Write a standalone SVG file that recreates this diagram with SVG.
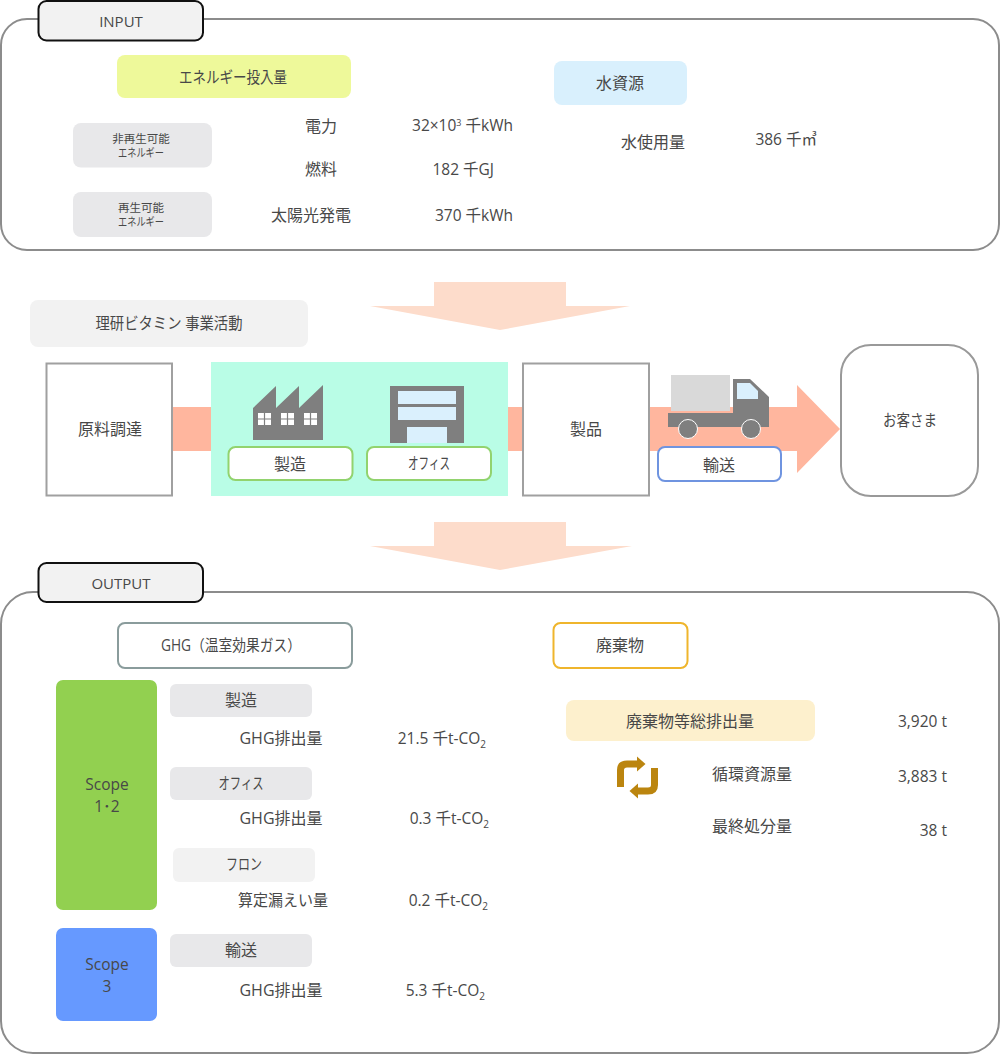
<svg xmlns="http://www.w3.org/2000/svg" width="1000" height="1055" viewBox="0 0 1000 1055">
<style>
text{font-family:"Open Sans","Noto Sans CJK JP",sans-serif;font-size:15.5px;fill:#484848;text-anchor:middle}
.c{font-size:16px}
.k{font-size:15px}
.s{font-size:11.500px}
.e{text-anchor:end}
.panel{fill:#fff;stroke:#8c8c8c;stroke-width:2}
.tab{fill:#f2f2f2;stroke:#111;stroke-width:2}
.box{fill:#fff;stroke:#a0a0a0;stroke-width:2}
.gray{fill:#e8e8ea}
.lt{fill:#f2f2f2}
.bigarrow{fill:#fddccb}
.band{fill:#ffb69e}
.dark{fill:#7f7f7f}
.pale{fill:#daf0fd}
.lab{fill:#fff;stroke:#92d36e;stroke-width:2}
.win{fill:#fff}
.rec{fill:none;stroke:#bb850f;stroke-width:7}
.recf{fill:#bb850f}
</style>
<defs>
<g id="w"><rect width="13" height="12" class="win"/><path d="M6.500 0V12M0 6H13" stroke="#7f7f7f" stroke-width="1.200"/></g>
</defs>

<g id="connectors">
<path id="arrow-down-1" class="bigarrow" d="M434 282H566V306H630L500 330L370 306H434Z"/>
<path id="arrow-down-2" class="bigarrow" d="M434 522H566V546H632L500 570L370 546H434Z"/>
<rect id="band-1" class="band" x="172" y="407" width="40" height="44"/>
<rect id="band-2" class="band" x="507" y="407" width="16" height="44"/>
<path id="band-3" class="band" d="M649 407H797V385L840 429L797 473V451H649Z"/>
</g>

<g id="input-panel">
<rect class="panel" x="1" y="19" width="998" height="231" rx="26"/>
<rect class="tab" x="38.500" y="1" width="164.500" height="39.500" rx="8"/>
<text class="k" x="121" y="27">INPUT</text>
</g>
<g id="energy"><rect x="117" y="55" width="234" height="43" rx="8" fill="#eef99a"/><text class="c" x="233" y="83" textLength="108" lengthAdjust="spacingAndGlyphs">エネルギー投入量</text></g>
<g id="non-renewable"><rect class="gray" x="73" y="123" width="139" height="44.500" rx="8"/><text class="s" x="141" y="143">非再生可能<tspan x="141" dy="14" textLength="46" lengthAdjust="spacingAndGlyphs">エネルギー</tspan></text></g>
<g id="renewable"><rect class="gray" x="73" y="192" width="139" height="45" rx="8"/><text class="s" x="141" y="212">再生可能<tspan x="141" dy="14" textLength="46" lengthAdjust="spacingAndGlyphs">エネルギー</tspan></text></g>
<g id="water"><rect x="554" y="61" width="133" height="44" rx="8" fill="#d9f0fd"/><text class="c" x="620" y="89">水資源</text></g>
<g id="input-values">
<text class="c" x="321" y="132">電力</text>
<text class="c" x="321" y="175">燃料</text>
<text class="c" x="311" y="221">太陽光発電</text>
<text class="e" x="513" y="131">32×10<tspan font-size="9" dy="-5">3</tspan><tspan dy="5"> 千kWh</tspan></text>
<text class="e" x="494" y="175">182 千GJ</text>
<text class="e" x="513" y="221">370 千kWh</text>
<text class="c" x="653" y="148">水使用量</text>
<text class="e" x="817" y="145">386 千㎥</text>
</g>

<g id="business"><rect class="lt" x="30" y="300" width="278" height="47" rx="8"/><text x="169" y="329" textLength="147" lengthAdjust="spacingAndGlyphs">理研ビタミン 事業活動</text></g>
<g id="procurement"><rect class="box" x="46.500" y="363.500" width="125.500" height="132"/><text class="c" x="110" y="435">原料調達</text></g>

<g id="operations"><rect x="211" y="362" width="297" height="134" fill="#b9fde6"/>
<path class="dark" d="M253 408L276 386V408L299 386V408L323 385V440H253Z"/>
<use href="#w" x="258" y="413"/><use href="#w" x="281" y="413"/><use href="#w" x="304" y="413"/>
<rect class="dark" x="390" y="386" width="74" height="57"/>
<rect class="pale" x="398" y="391" width="58" height="13"/>
<rect class="pale" x="398" y="407" width="58" height="13"/>
<rect class="pale" x="407" y="427" width="40" height="16"/>
</g>
<g id="manufacturing"><rect class="lab" x="228.500" y="447" width="124" height="33" rx="7"/><text class="c" x="290" y="470">製造</text></g>
<g id="office"><rect class="lab" x="367" y="447" width="124" height="33" rx="7"/><text x="429" y="469" textLength="42" lengthAdjust="spacingAndGlyphs">オフィス</text></g>

<g id="product"><rect class="box" x="523" y="363.500" width="126" height="132"/><text class="c" x="586" y="435">製品</text></g>
<g id="truck">
<rect x="671" y="375" width="59" height="36" fill="#d9d9d9"/>
<path class="dark" d="M733 379H750L769 397V427H668V413H733Z"/>
<path class="pale" d="M737 383H750L758 391V399H737Z"/>
<circle class="dark" cx="688" cy="429" r="9.500" stroke="#fff"/>
<circle class="dark" cx="751" cy="429" r="9.500" stroke="#fff"/>
</g>
<g id="transport"><rect x="658" y="447" width="123" height="34" rx="7" fill="#fff" stroke="#6f94e0" stroke-width="2"/><text class="c" x="719" y="471">輸送</text></g>
<g id="customer"><rect x="841" y="345" width="137" height="151" rx="30" fill="#fff" stroke="#999" stroke-width="2"/><text x="910" y="426" textLength="54" lengthAdjust="spacingAndGlyphs">お客さま</text></g>

<g id="output-panel">
<rect class="panel" x="1" y="592" width="998" height="461" rx="32"/>
<rect class="tab" x="38.500" y="563" width="164.500" height="39" rx="8"/>
<text class="k" x="121" y="589">OUTPUT</text>
</g>
<g id="ghg"><rect x="118" y="623" width="234" height="45" rx="7" fill="#fff" stroke="#8a9c9c" stroke-width="2"/><text x="231" y="651" textLength="140" lengthAdjust="spacingAndGlyphs">GHG（温室効果ガス）</text></g>
<g id="waste"><rect x="553.500" y="623" width="134" height="45" rx="7" fill="#fff" stroke="#efb52c" stroke-width="2"/><text class="c" x="620" y="651">廃棄物</text></g>
<g id="scope12"><rect x="56" y="680" width="101" height="230" rx="7" fill="#92d050"/><text x="107" y="790">Scope</text><text x="107" y="811.500">1･2</text></g>
<g id="scope3"><rect x="56" y="928" width="101" height="93" rx="7" fill="#6699ff"/><text x="107" y="970">Scope</text><text x="107" y="991.500">3</text></g>
<g id="s-manufacturing"><rect class="gray" x="170" y="684" width="142" height="33" rx="6"/><text class="c" x="241" y="706">製造</text></g>
<g id="s-office"><rect class="gray" x="170" y="767" width="142" height="33" rx="6"/><text x="241" y="789" textLength="45" lengthAdjust="spacingAndGlyphs">オフィス</text></g>
<g id="s-freon"><rect class="lt" x="173" y="848" width="142" height="34" rx="6"/><text x="244" y="870" textLength="36" lengthAdjust="spacingAndGlyphs">フロン</text></g>
<g id="s-transport"><rect class="gray" x="170" y="934" width="142" height="33" rx="6"/><text class="c" x="241" y="956">輸送</text></g>
<g id="ghg-values">
<text class="c" x="281" y="744">GHG排出量</text>
<text class="e" x="486" y="744">21.5 千t-CO<tspan font-size="10" dy="4">2</tspan></text>
<text class="c" x="281" y="824">GHG排出量</text>
<text class="e" x="489" y="824">0.3 千t-CO<tspan font-size="10" dy="4">2</tspan></text>
<text x="283" y="906" textLength="90" lengthAdjust="spacingAndGlyphs">算定漏えい量</text>
<text class="e" x="488" y="906">0.2 千t-CO<tspan font-size="10" dy="4">2</tspan></text>
<text class="c" x="281" y="996">GHG排出量</text>
<text class="e" x="485" y="996">5.3 千t-CO<tspan font-size="10" dy="4">2</tspan></text>
</g>
<g id="waste-total"><rect x="566" y="700" width="249" height="41" rx="8" fill="#fdf0cd"/><text class="c" x="690" y="727">廃棄物等総排出量</text></g>
<g id="recycle-icon">
<g id="rec-a"><path class="rec" d="M620.500 787V770Q620.500 764 627 764H639"/><path class="recf" d="M637 756.500L645.500 764L637 771.500Z"/></g>
<g transform="rotate(180 637.500 777.500)"><path class="rec" d="M620.500 787V770Q620.500 764 627 764H639"/><path class="recf" d="M637 756.500L645.500 764L637 771.500Z"/></g>
</g>
<g id="waste-values">
<text class="c" x="752" y="780">循環資源量</text>
<text class="c" x="752" y="832">最終処分量</text>
<text class="e" x="947" y="727">3,920 t</text>
<text class="e" x="947" y="782">3,883 t</text>
<text class="e" x="947" y="836">38 t</text>
</g>
</svg>
